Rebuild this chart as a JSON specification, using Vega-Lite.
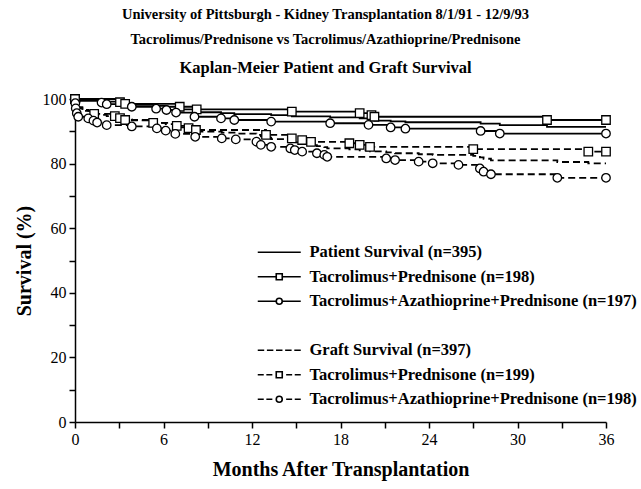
{
  "$schema": "https://vega.github.io/schema/vega-lite/v6.json",
  "autosize": {"type": "none"},
  "width": 531,
  "height": 323,
  "padding": {"left": 75, "top": 99, "right": 35, "bottom": 67},
  "background": "white",
  "config": {
    "view": {"stroke": null},
    "font": "Liberation Serif",
    "axis": {
      "domainColor": "black", "domainWidth": 1.5, "tickColor": "black", "tickWidth": 1.5, "tickSize": 6,
      "labelFont": "Liberation Serif", "labelFontSize": 16, "labelColor": "black", "labelPadding": 3,
      "titleFont": "Liberation Serif", "titleFontSize": 20, "titleFontWeight": "bold", "titleColor": "black",
      "grid": false, "labelFlush": false, "labelOverlap": false
    }
  },
  "title": {
    "text": ["University of Pittsburgh - Kidney Transplantation 8/1/91 - 12/9/93", "Tacrolimus/Prednisone vs Tacrolimus/Azathioprine/Prednisone"],
    "subtitle": "Kaplan-Meier Patient and Graft Survival",
    "font": "Liberation Serif", "fontSize": 14.5, "fontWeight": "bold", "color": "black", "lineHeight": 25,
    "subtitleFont": "Liberation Serif", "subtitleFontSize": 16.5, "subtitleFontWeight": "bold", "subtitleColor": "black", "subtitlePadding": 12,
    "anchor": "middle", "frame": "bounds", "offset": 14
  },
  "data": {"values": [
    {"c":"P_all","m":0,"s":100,"k":0},{"c":"P_all","m":0.05,"s":99.7,"k":0},{"c":"P_all","m":1.8,"s":99.4,"k":0},{"c":"P_all","m":2.15,"s":99.2,"k":0},{"c":"P_all","m":3.05,"s":98.9,"k":0},{"c":"P_all","m":3.4,"s":98.6,"k":0},{"c":"P_all","m":3.85,"s":98.2,"k":0},{"c":"P_all","m":5.5,"s":97.9,"k":0},{"c":"P_all","m":6.2,"s":97.6,"k":0},{"c":"P_all","m":6.85,"s":97.2,"k":0},{"c":"P_all","m":7.1,"s":96.8,"k":0},{"c":"P_all","m":8.1,"s":96.3,"k":0},{"c":"P_all","m":8.25,"s":95.9,"k":0},{"c":"P_all","m":9.9,"s":95.6,"k":0},{"c":"P_all","m":10.8,"s":95.3,"k":0},{"c":"P_all","m":13.3,"s":95.0,"k":0},{"c":"P_all","m":14.7,"s":94.6,"k":0},{"c":"P_all","m":17.3,"s":94.3,"k":0},{"c":"P_all","m":19.3,"s":94.0,"k":0},{"c":"P_all","m":19.9,"s":93.7,"k":0},{"c":"P_all","m":20.1,"s":93.5,"k":0},{"c":"P_all","m":20.3,"s":93.3,"k":0},{"c":"P_all","m":21.4,"s":93.1,"k":0},{"c":"P_all","m":22.4,"s":92.8,"k":0},{"c":"P_all","m":27.5,"s":92.4,"k":0},{"c":"P_all","m":28.8,"s":91.9,"k":0},{"c":"P_all","m":32.0,"s":91.4,"k":0},{"c":"P_all","m":36,"s":91.4,"k":0},
    {"c":"P_TP","m":0,"s":100,"k":1},{"c":"P_TP","m":3.05,"s":99.0,"k":1},{"c":"P_TP","m":3.4,"s":98.5,"k":1},{"c":"P_TP","m":7.1,"s":97.6,"k":1},{"c":"P_TP","m":8.25,"s":96.8,"k":1},{"c":"P_TP","m":14.7,"s":96.1,"k":1},{"c":"P_TP","m":19.3,"s":95.6,"k":1},{"c":"P_TP","m":20.1,"s":95.0,"k":1},{"c":"P_TP","m":20.3,"s":94.5,"k":1},{"c":"P_TP","m":32.0,"s":93.5,"k":1},{"c":"P_TP","m":36,"s":93.5,"k":1},
    {"c":"P_TAP","m":0,"s":100,"k":0},{"c":"P_TAP","m":0.05,"s":99.4,"k":1},{"c":"P_TAP","m":1.8,"s":98.9,"k":1},{"c":"P_TAP","m":2.15,"s":98.4,"k":1},{"c":"P_TAP","m":3.85,"s":97.6,"k":1},{"c":"P_TAP","m":5.5,"s":97.0,"k":1},{"c":"P_TAP","m":6.2,"s":96.6,"k":1},{"c":"P_TAP","m":6.85,"s":95.8,"k":1},{"c":"P_TAP","m":8.1,"s":94.5,"k":1},{"c":"P_TAP","m":9.9,"s":94.0,"k":1},{"c":"P_TAP","m":10.8,"s":93.5,"k":1},{"c":"P_TAP","m":13.3,"s":93.0,"k":1},{"c":"P_TAP","m":17.3,"s":92.5,"k":1},{"c":"P_TAP","m":19.9,"s":92.0,"k":1},{"c":"P_TAP","m":21.4,"s":91.2,"k":1},{"c":"P_TAP","m":22.4,"s":90.8,"k":1},{"c":"P_TAP","m":27.5,"s":90.1,"k":1},{"c":"P_TAP","m":28.8,"s":89.3,"k":1},{"c":"P_TAP","m":36,"s":89.3,"k":1},
    {"c":"G_all","m":0,"s":100,"k":0},{"c":"G_all","m":0.02,"s":99.3,"k":0},{"c":"G_all","m":0.05,"s":98.5,"k":0},{"c":"G_all","m":0.12,"s":97.8,"k":0},{"c":"G_all","m":0.22,"s":97.2,"k":0},{"c":"G_all","m":0.5,"s":96.6,"k":0},{"c":"G_all","m":0.9,"s":96.3,"k":0},{"c":"G_all","m":1.25,"s":95.9,"k":0},{"c":"G_all","m":1.3,"s":95.4,"k":0},{"c":"G_all","m":1.5,"s":95.1,"k":0},{"c":"G_all","m":2.15,"s":94.7,"k":0},{"c":"G_all","m":2.7,"s":94.4,"k":0},{"c":"G_all","m":3.05,"s":94.0,"k":0},{"c":"G_all","m":3.4,"s":93.7,"k":0},{"c":"G_all","m":3.85,"s":93.4,"k":0},{"c":"G_all","m":5.3,"s":93.0,"k":0},{"c":"G_all","m":5.55,"s":92.6,"k":0},{"c":"G_all","m":6.15,"s":92.2,"k":0},{"c":"G_all","m":6.8,"s":91.6,"k":0},{"c":"G_all","m":6.9,"s":91.2,"k":0},{"c":"G_all","m":7.7,"s":90.8,"k":0},{"c":"G_all","m":8.15,"s":90.3,"k":0},{"c":"G_all","m":8.2,"s":89.9,"k":0},{"c":"G_all","m":9.95,"s":89.6,"k":0},{"c":"G_all","m":10.9,"s":89.3,"k":0},{"c":"G_all","m":12.3,"s":88.9,"k":0},{"c":"G_all","m":12.6,"s":88.4,"k":0},{"c":"G_all","m":12.9,"s":88.0,"k":0},{"c":"G_all","m":13.3,"s":87.6,"k":0},{"c":"G_all","m":14.6,"s":87.3,"k":0},{"c":"G_all","m":14.7,"s":86.9,"k":0},{"c":"G_all","m":14.9,"s":86.6,"k":0},{"c":"G_all","m":15.4,"s":86.0,"k":0},{"c":"G_all","m":16.0,"s":85.7,"k":0},{"c":"G_all","m":16.4,"s":85.4,"k":0},{"c":"G_all","m":16.9,"s":85.1,"k":0},{"c":"G_all","m":17.1,"s":84.7,"k":0},{"c":"G_all","m":18.6,"s":84.4,"k":0},{"c":"G_all","m":19.3,"s":84.1,"k":0},{"c":"G_all","m":20.0,"s":83.8,"k":0},{"c":"G_all","m":21.1,"s":83.5,"k":0},{"c":"G_all","m":21.7,"s":83.2,"k":0},{"c":"G_all","m":23.3,"s":82.9,"k":0},{"c":"G_all","m":24.25,"s":82.7,"k":0},{"c":"G_all","m":27.0,"s":82.4,"k":0},{"c":"G_all","m":27.45,"s":81.9,"k":0},{"c":"G_all","m":27.7,"s":81.5,"k":0},{"c":"G_all","m":28.2,"s":81.0,"k":0},{"c":"G_all","m":32.7,"s":80.5,"k":0},{"c":"G_all","m":34.8,"s":80.1,"k":0},{"c":"G_all","m":36,"s":80.1,"k":0},
    {"c":"G_TP","m":0,"s":100,"k":1},{"c":"G_TP","m":0.1,"s":97.5,"k":0},{"c":"G_TP","m":0.5,"s":96.3,"k":0},{"c":"G_TP","m":1.3,"s":95.4,"k":1},{"c":"G_TP","m":2.7,"s":94.7,"k":1},{"c":"G_TP","m":3.05,"s":94.1,"k":1},{"c":"G_TP","m":3.4,"s":93.5,"k":1},{"c":"G_TP","m":5.3,"s":92.6,"k":1},{"c":"G_TP","m":6.9,"s":91.7,"k":1},{"c":"G_TP","m":7.7,"s":91.0,"k":1},{"c":"G_TP","m":8.2,"s":90.4,"k":1},{"c":"G_TP","m":12.95,"s":88.9,"k":1},{"c":"G_TP","m":14.7,"s":87.8,"k":1},{"c":"G_TP","m":15.4,"s":87.3,"k":1},{"c":"G_TP","m":16.0,"s":86.7,"k":1},{"c":"G_TP","m":18.6,"s":86.3,"k":1},{"c":"G_TP","m":19.3,"s":85.8,"k":1},{"c":"G_TP","m":20.0,"s":85.2,"k":1},{"c":"G_TP","m":27.0,"s":84.5,"k":1},{"c":"G_TP","m":34.8,"s":83.7,"k":1},{"c":"G_TP","m":36,"s":83.7,"k":1},
    {"c":"G_TAP","m":0,"s":100,"k":0},{"c":"G_TAP","m":0.02,"s":98.7,"k":1},{"c":"G_TAP","m":0.05,"s":97.1,"k":1},{"c":"G_TAP","m":0.12,"s":95.6,"k":1},{"c":"G_TAP","m":0.22,"s":94.5,"k":1},{"c":"G_TAP","m":0.9,"s":94.0,"k":1},{"c":"G_TAP","m":1.25,"s":93.3,"k":1},{"c":"G_TAP","m":1.5,"s":92.7,"k":1},{"c":"G_TAP","m":2.15,"s":91.9,"k":1},{"c":"G_TAP","m":3.85,"s":91.5,"k":1},{"c":"G_TAP","m":5.55,"s":90.9,"k":1},{"c":"G_TAP","m":6.15,"s":90.2,"k":1},{"c":"G_TAP","m":6.8,"s":89.2,"k":1},{"c":"G_TAP","m":8.15,"s":88.3,"k":1},{"c":"G_TAP","m":9.95,"s":87.8,"k":1},{"c":"G_TAP","m":10.9,"s":87.5,"k":1},{"c":"G_TAP","m":12.3,"s":86.8,"k":1},{"c":"G_TAP","m":12.6,"s":85.8,"k":1},{"c":"G_TAP","m":13.3,"s":85.2,"k":1},{"c":"G_TAP","m":14.6,"s":84.7,"k":1},{"c":"G_TAP","m":14.9,"s":84.2,"k":1},{"c":"G_TAP","m":15.4,"s":83.7,"k":1},{"c":"G_TAP","m":16.4,"s":83.2,"k":1},{"c":"G_TAP","m":16.9,"s":82.7,"k":1},{"c":"G_TAP","m":17.1,"s":82.1,"k":1},{"c":"G_TAP","m":21.1,"s":81.6,"k":1},{"c":"G_TAP","m":21.7,"s":81.1,"k":1},{"c":"G_TAP","m":23.3,"s":80.6,"k":1},{"c":"G_TAP","m":24.25,"s":80.1,"k":1},{"c":"G_TAP","m":26.0,"s":79.6,"k":1},{"c":"G_TAP","m":27.45,"s":78.5,"k":1},{"c":"G_TAP","m":27.7,"s":77.5,"k":1},{"c":"G_TAP","m":28.2,"s":76.7,"k":1},{"c":"G_TAP","m":32.7,"s":75.6,"k":1},{"c":"G_TAP","m":36,"s":75.6,"k":1}
  ]},
  "encoding": {
    "x": {"field": "m", "type": "quantitative",
      "scale": {"domain": [0, 36], "nice": false, "zero": false},
      "axis": {"values": [0,3,6,9,12,15,18,21,24,27,30,33,36], "labelExpr": "datum.value % 6 == 0 ? datum.label : ''", "title": "Months After Transplantation", "titlePadding": 12}},
    "y": {"field": "s", "type": "quantitative",
      "scale": {"domain": [0, 100], "nice": false},
      "axis": {"values": [0,10,20,30,40,50,60,70,80,90,100], "labelExpr": "datum.value % 20 == 0 ? datum.label : ''", "title": "Survival (%)", "titlePadding": 8}}
  },
  "layer": [
    {
      "mark": {"type": "line", "interpolate": "step-after", "color": "black", "strokeWidth": 1.8},
      "encoding": {
        "strokeDash": {"field": "c", "type": "nominal",
          "scale": {"domain": ["P_all","P_TP","P_TAP","G_all","G_TP","G_TAP"], "range": [[1,0],[1,0],[1,0],[7,4],[7,4],[7,4]]},
          "legend": null}
      }
    },
    {
      "transform": [{"filter": "datum.k == 1"}],
      "mark": {"type": "point", "filled": true, "fill": "white", "stroke": "black", "strokeWidth": 1.3, "size": 72, "opacity": 1},
      "encoding": {
        "shape": {"field": "c", "type": "nominal",
          "scale": {"domain": ["P_TP","P_TAP","G_TP","G_TAP"], "range": ["square","circle","square","circle"]},
          "legend": null}
      }
    },
    {
      "transform": [{"filter": "datum.m < 0"}],
      "mark": {"type": "point", "filled": false, "color": "black", "strokeWidth": 1.6, "opacity": 1},
      "encoding": {
        "shape": {"field": "L", "type": "nominal",
          "scale": {
            "domain": ["Patient Survival (n=395)", "Tacrolimus+Prednisone (n=198)", "Tacrolimus+Azathioprine+Prednisone (n=197)", " ", "Graft Survival (n=397)", "Tacrolimus+Prednisone (n=199)", "Tacrolimus+Azathioprine+Prednisone (n=198)"],
            "range": [
              "M-4.3,0H4.3",
              "M-4.3,0H-0.6M0.6,0H4.3M-0.6,-0.6H0.6V0.6H-0.6Z",
              "M-4.3,0H-0.6M0.6,0H4.3M-0.6,0A0.6,0.6 0 1,0 0.6,0A0.6,0.6 0 1,0 -0.6,0",
              "M0,0L0,0",
              "M-4.3,0H-3.01M-2.47,0H-1.18M-0.645,0H0.645M1.18,0H2.47M3.01,0H4.3",
              "M-4.3,0H-3.1M-2.58,0H-1.38M1.38,0H2.58M3.1,0H4.3M-0.6,-0.6H0.6V0.6H-0.6Z",
              "M-4.3,0H-3.1M-2.58,0H-1.38M1.38,0H2.58M3.1,0H4.3M-0.6,0A0.6,0.6 0 1,0 0.6,0A0.6,0.6 0 1,0 -0.6,0"
            ]
          },
          "legend": {
            "title": null, "orient": "none", "legendX": 196, "legendY": 145,
            "symbolSize": 100, "symbolStrokeWidth": 1.6, "symbolStrokeColor": "black", "symbolOpacity": 1,
            "labelFont": "Liberation Serif", "labelFontSize": 16.5, "labelFontWeight": "bold", "labelColor": "black",
            "labelLimit": 500, "labelOffset": 22, "rowPadding": 7.5, "padding": 0
          }
        }
      }
    }
  ],
  "resolve": {"scale": {"shape": "independent"}}
}
